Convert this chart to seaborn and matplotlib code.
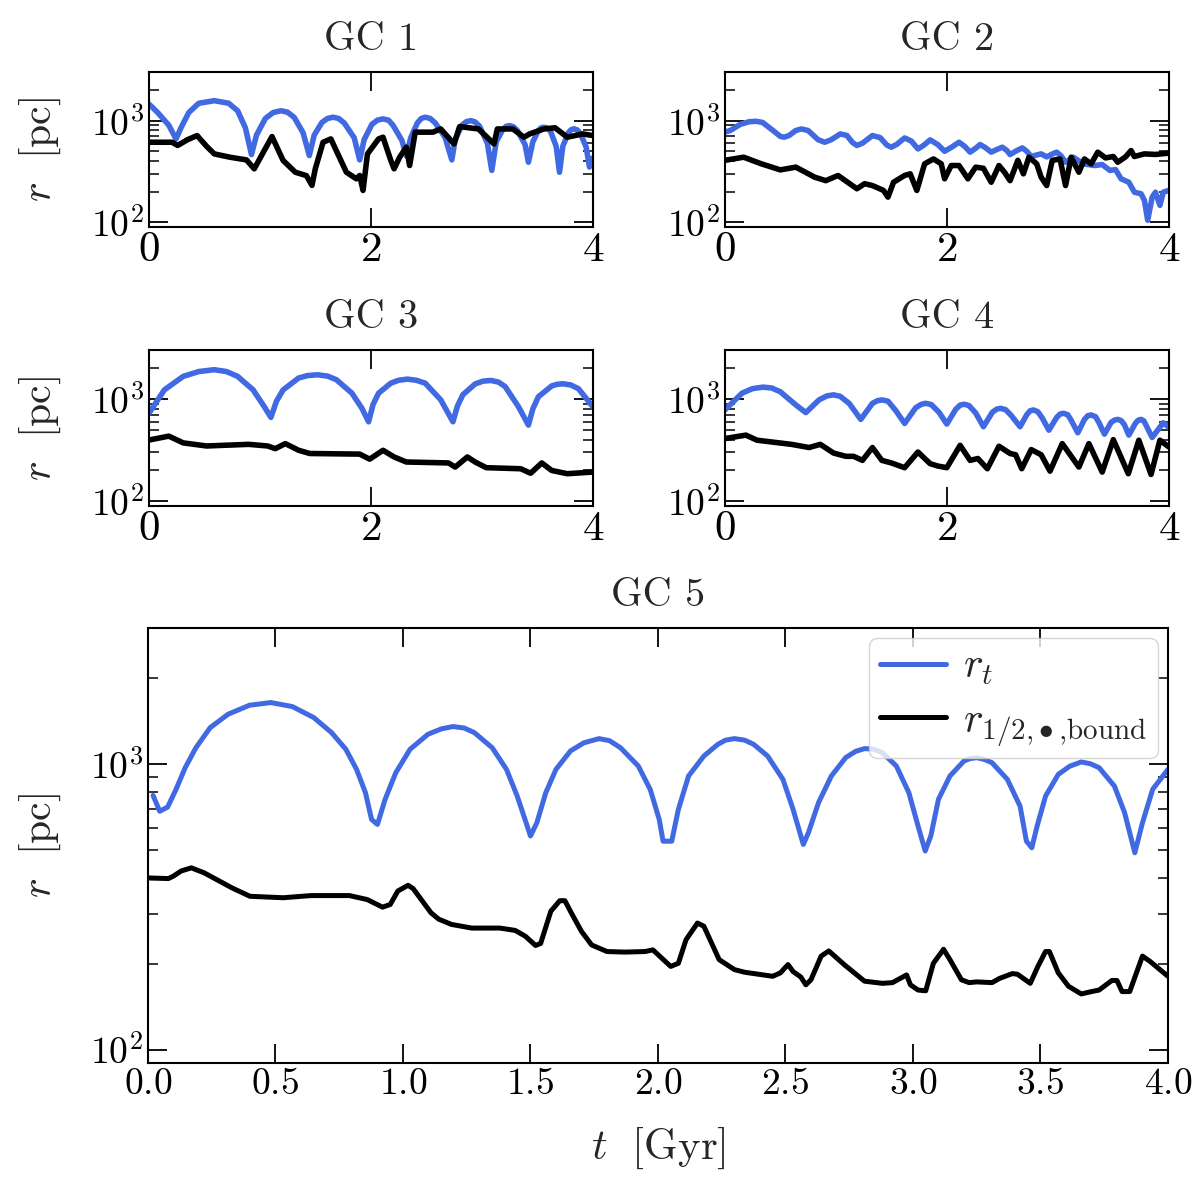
import numpy as np
import pandas as pd
import seaborn as sns
import matplotlib
matplotlib.use('Agg')
import matplotlib.pyplot as plt
from matplotlib.ticker import MultipleLocator, NullFormatter, LogLocator

# tidal radius (blue) and bound half-mass radius (black) for each cluster, in pc
t_gc1_tid = [0.00, 0.08, 0.18, 0.245, 0.29, 0.36, 0.45, 0.59, 0.72, 0.80, 0.87, 0.925, 0.97, 1.05, 1.12, 1.19,
             1.25, 1.31, 1.39, 1.446, 1.49, 1.56, 1.61, 1.66, 1.71, 1.76, 1.85, 1.90, 1.94, 2.01, 2.06, 2.11,
             2.16, 2.20, 2.28, 2.32, 2.36, 2.42, 2.455, 2.49, 2.535, 2.58, 2.67, 2.73, 2.76, 2.82, 2.86, 2.90,
             2.94, 2.98, 3.05, 3.09, 3.13, 3.19, 3.22, 3.25, 3.285, 3.32, 3.39, 3.42, 3.46, 3.51, 3.535, 3.56,
             3.59, 3.62, 3.67, 3.70, 3.73, 3.78, 3.805, 3.83, 3.86, 3.89, 3.94, 3.97, 4.00]
r_gc1_tid = [1460, 1200, 900, 660, 850, 1200, 1480, 1570, 1480, 1250, 850, 464, 720, 1050, 1200, 1250,
             1210, 1075, 760, 454, 720, 960, 1050, 1080, 1050, 950, 680, 411, 650, 920, 1010, 1040,
             1010, 900, 640, 450, 680, 950, 1050, 1080, 1050, 950, 680, 411, 650, 900, 975, 1000,
             970, 880, 600, 324, 620, 820, 880, 893, 870, 800, 580, 390, 620, 800, 850, 860,
             845, 780, 560, 311, 560, 760, 815, 830, 810, 740, 550, 350, 430]
t_gc1_half = [0.00, 0.21, 0.26, 0.35, 0.435, 0.52, 0.59, 0.73, 0.88, 0.95, 1.04, 1.11, 1.21, 1.32, 1.42, 1.47,
              1.50, 1.57, 1.64, 1.73, 1.78, 1.87, 1.90, 1.93, 1.97, 2.07, 2.11, 2.18, 2.21, 2.26, 2.32, 2.35,
              2.40, 2.56, 2.63, 2.75, 2.80, 2.97, 3.11, 3.14, 3.28, 3.38, 3.43, 3.56, 3.66, 3.77, 3.91, 4.00]
r_gc1_half = [613, 613, 570, 650, 713, 560, 471, 437, 411, 336, 508, 697, 406, 311, 288, 231,
              336, 613, 661, 407, 311, 268, 289, 206, 471, 661, 687, 407, 336, 437, 548, 362,
              770, 770, 828, 590, 873, 828, 590, 828, 828, 687, 740, 828, 850, 687, 740, 713]

t_gc2_tid = [0.00, 0.05, 0.14, 0.22, 0.28, 0.34, 0.44, 0.50, 0.535, 0.58, 0.64, 0.69, 0.75, 0.84, 0.90, 0.96,
             1.04, 1.10, 1.15, 1.19, 1.24, 1.33, 1.40, 1.46, 1.50, 1.55, 1.62, 1.68, 1.74, 1.79, 1.85, 1.92,
             1.98, 2.04, 2.11, 2.16, 2.21, 2.26, 2.30, 2.35, 2.40, 2.45, 2.50, 2.54, 2.57, 2.62, 2.68, 2.72,
             2.76, 2.81, 2.85, 2.90, 2.95, 2.99, 3.03, 3.07, 3.14, 3.23, 3.33, 3.40, 3.47, 3.52, 3.57, 3.64,
             3.69, 3.75, 3.78, 3.81, 3.85, 3.88, 3.92, 3.95, 4.00]
r_gc2_tid = [770, 800, 920, 975, 985, 960, 790, 700, 687, 715, 800, 828, 800, 650, 613, 650,
             740, 715, 610, 570, 600, 713, 680, 575, 548, 585, 676, 630, 527, 570, 647, 580,
             500, 545, 613, 560, 490, 535, 582, 540, 490, 520, 548, 510, 464, 500, 540, 500,
             444, 460, 471, 440, 470, 490, 450, 390, 437, 376, 362, 370, 324, 330, 268, 248,
             198, 191, 165, 105, 177, 198, 147, 198, 206]
t_gc2_half = [0.00, 0.17, 0.33, 0.50, 0.64, 0.81, 0.91, 1.02, 1.19, 1.26, 1.33, 1.43, 1.47, 1.52, 1.62, 1.67,
              1.73, 1.80, 1.88, 1.95, 1.98, 2.04, 2.11, 2.19, 2.26, 2.33, 2.40, 2.47, 2.52, 2.57, 2.64, 2.69,
              2.74, 2.81, 2.85, 2.90, 2.95, 3.02, 3.07, 3.12, 3.19, 3.24, 3.30, 3.36, 3.43, 3.50, 3.54, 3.61,
              3.66, 3.69, 3.78, 3.88, 4.00]
r_gc2_half = [407, 437, 376, 328, 349, 278, 257, 289, 214, 240, 230, 206, 177, 248, 289, 300,
              206, 376, 420, 376, 268, 362, 362, 268, 349, 340, 248, 362, 311, 257, 407, 300,
              437, 376, 278, 230, 407, 420, 230, 437, 311, 420, 376, 490, 430, 444, 390, 440,
              508, 444, 471, 465, 479]

t_gc3_tid = [0.00, 0.14, 0.31, 0.45, 0.59, 0.70, 0.80, 0.94, 1.04, 1.10, 1.15, 1.21, 1.35, 1.43, 1.52, 1.61,
             1.69, 1.83, 1.92, 1.98, 2.02, 2.07, 2.18, 2.25, 2.33, 2.41, 2.49, 2.63, 2.74, 2.78, 2.83, 2.94,
             3.01, 3.08, 3.15, 3.21, 3.33, 3.42, 3.46, 3.51, 3.63, 3.68, 3.73, 3.80, 3.87, 4.00]
r_gc3_tid = [720, 1225, 1660, 1850, 1928, 1850, 1660, 1225, 840, 660, 950, 1225, 1600, 1690, 1720, 1670,
             1540, 1137, 810, 598, 880, 1137, 1425, 1520, 1560, 1520, 1425, 980, 598, 850, 1100, 1400,
             1490, 1515, 1460, 1320, 840, 555, 800, 1050, 1340, 1390, 1405, 1370, 1260, 840]
t_gc3_half = [0.00, 0.18, 0.31, 0.52, 0.90, 1.07, 1.14, 1.23, 1.35, 1.45, 1.90, 1.99, 2.11, 2.21, 2.32, 2.70,
              2.76, 2.87, 2.94, 3.04, 3.35, 3.44, 3.54, 3.63, 3.77, 4.00]
r_gc3_half = [396, 433, 372, 347, 360, 347, 327, 366, 315, 293, 289, 258, 315, 271, 242, 237,
              216, 271, 242, 213, 208, 188, 237, 200, 186, 193]

t_gc4_tid = [0.00, 0.155, 0.25, 0.345, 0.42, 0.50, 0.64, 0.73, 0.85, 0.92, 0.98, 1.04, 1.12, 1.225, 1.33, 1.375,
             1.415, 1.47, 1.54, 1.62, 1.72, 1.77, 1.81, 1.86, 1.93, 2.00, 2.08, 2.12, 2.157, 2.20, 2.26, 2.33,
             2.41, 2.45, 2.485, 2.53, 2.58, 2.66, 2.72, 2.75, 2.78, 2.82, 2.86, 2.92, 2.99, 3.02, 3.05, 3.09,
             3.12, 3.18, 3.24, 3.27, 3.30, 3.34, 3.37, 3.42, 3.48, 3.51, 3.54, 3.57, 3.60, 3.64, 3.70, 3.725,
             3.75, 3.775, 3.80, 3.85, 3.95, 4.00]
r_gc4_tid = [780, 1137, 1260, 1303, 1280, 1175, 873, 735, 980, 1070, 1095, 1060, 905, 631, 905, 960,
             978, 950, 770, 576, 820, 885, 906, 880, 740, 568, 790, 870, 887, 860, 730, 535,
             740, 795, 809, 785, 690, 535, 700, 765, 780, 750, 650, 495, 660, 710, 724, 700,
             620, 467, 630, 685, 697, 670, 590, 453, 590, 620, 631, 615, 560, 443, 580, 620,
             631, 610, 540, 420, 585, 530]
t_gc4_half = [0.00, 0.19, 0.29, 0.60, 0.76, 0.86, 0.98, 1.09, 1.16, 1.24, 1.33, 1.415, 1.50, 1.62, 1.74, 1.85,
              1.92, 2.00, 2.12, 2.21, 2.28, 2.365, 2.47, 2.57, 2.62, 2.675, 2.76, 2.85, 2.93, 3.04, 3.19, 3.28,
              3.40, 3.50, 3.635, 3.73, 3.84, 3.92, 4.00]
r_gc4_half = [410, 443, 395, 360, 335, 360, 296, 275, 275, 251, 335, 251, 237, 213, 303, 233,
              221, 213, 352, 251, 262, 208, 345, 293, 285, 208, 320, 285, 197, 366, 216, 366,
              193, 400, 186, 395, 183, 395, 340]

t_gc5_tid = [0.02, 0.046, 0.077, 0.11, 0.146, 0.188, 0.244, 0.314, 0.398, 0.482, 0.566, 0.65, 0.72, 0.776,
             0.818, 0.853, 0.877, 0.90, 0.93, 0.972, 1.028, 1.098, 1.15, 1.196, 1.24, 1.28, 1.35, 1.406, 1.448,
             1.483, 1.50, 1.525, 1.56, 1.60, 1.657, 1.71, 1.769, 1.81, 1.853, 1.923, 1.97, 2.005, 2.02, 2.054,
             2.08, 2.12, 2.18, 2.235, 2.265, 2.30, 2.34, 2.375, 2.43, 2.49, 2.53, 2.57, 2.59, 2.63, 2.68,
             2.736, 2.775, 2.81, 2.845, 2.88, 2.935, 2.984, 3.02, 3.048, 3.07, 3.10, 3.145, 3.20, 3.225, 3.25,
             3.28, 3.31, 3.37, 3.42, 3.445, 3.466, 3.487, 3.52, 3.57, 3.615, 3.66, 3.695, 3.73, 3.79, 3.83,
             3.87, 3.90, 3.94, 4.00]
r_gc5_tid = [778, 685, 708, 817, 973, 1143, 1344, 1497, 1610, 1645, 1593, 1458, 1291, 1129,
             960, 795, 641, 616, 754, 935, 1129, 1274, 1330, 1356, 1340, 1291, 1143, 960, 774,
             624, 561, 624, 795, 960, 1114, 1190, 1230, 1210, 1143, 986, 815, 641, 538, 538,
             695, 910, 1069, 1175, 1215, 1230, 1215, 1175, 1069, 886, 695, 524, 576, 735, 910,
             1055, 1110, 1135, 1130, 1098, 986, 795, 608, 497, 561, 754, 910, 1027, 1048, 1055,
             1040, 1013, 886, 714, 538, 510, 608, 774, 922, 985, 1019, 1005, 973, 839, 677,
             490, 624, 817, 960]
t_gc5_half = [0.00, 0.08, 0.10, 0.13, 0.17, 0.22, 0.33, 0.40, 0.53, 0.64, 0.79, 0.86, 0.92, 0.95, 0.98, 1.02,
              1.04, 1.11, 1.14, 1.19, 1.27, 1.38, 1.44, 1.48, 1.52, 1.54, 1.58, 1.615, 1.635, 1.66, 1.70, 1.74,
              1.80, 1.87, 1.95, 1.98, 2.05, 2.08, 2.11, 2.155, 2.18, 2.24, 2.30, 2.34, 2.45, 2.48, 2.51, 2.53,
              2.56, 2.58, 2.60, 2.64, 2.67, 2.73, 2.81, 2.88, 2.92, 2.975, 2.99, 3.02, 3.05, 3.08, 3.12, 3.145,
              3.19, 3.22, 3.25, 3.31, 3.34, 3.39, 3.41, 3.46, 3.49, 3.52, 3.535, 3.57, 3.61, 3.66, 3.70, 3.73,
              3.78, 3.80, 3.82, 3.85, 3.90, 3.93, 4.00]
r_gc5_half = [400, 398, 406, 423, 434, 417, 369, 345, 341, 347, 347, 336, 316, 323, 360, 377,
              367, 302, 287, 275, 267, 267, 262, 250, 232, 236, 306, 333, 333, 302, 260, 233,
              221, 220, 221, 224, 196, 201, 243, 278, 271, 207, 191, 187, 181, 186, 199, 188,
              180, 169, 176, 213, 222, 199, 174, 171, 172, 183, 169, 162, 161, 201, 225, 207,
              176, 172, 173, 172, 178, 185, 184, 171, 196, 221, 221, 186, 167, 157, 160, 162,
              175, 175, 160, 160, 213, 204, 181]

panels = [
    ('GC 1', t_gc1_tid, r_gc1_tid, t_gc1_half, r_gc1_half),
    ('GC 2', t_gc2_tid, r_gc2_tid, t_gc2_half, r_gc2_half),
    ('GC 3', t_gc3_tid, r_gc3_tid, t_gc3_half, r_gc3_half),
    ('GC 4', t_gc4_tid, r_gc4_tid, t_gc4_half, r_gc4_half),
    ('GC 5', t_gc5_tid, r_gc5_tid, t_gc5_half, r_gc5_half),
]

BLUE = '#4169E1'

sns.set_style('ticks')
plt.rcParams.update({
    'font.family': 'serif',
    'font.serif': ['cmr10'],
    'mathtext.fontset': 'cm',
    'axes.formatter.use_mathtext': True,
    'axes.unicode_minus': False,
    'axes.linewidth': 1.5,
    'axes.edgecolor': 'black',
})

fig = plt.figure(figsize=(12, 11.85), dpi=100)
# [left, bottom, width, height] in figure fractions
rects = [
    [0.124, 0.8084, 0.370, 0.1308],
    [0.604, 0.8084, 0.370, 0.1308],
    [0.124, 0.5730, 0.370, 0.1316],
    [0.604, 0.5730, 0.370, 0.1316],
    [0.1233, 0.1030, 0.850, 0.3670],
]


def draw_panel(ax, title, t_tid, r_tid, t_half, r_half, big):
    tid = pd.DataFrame({'t': t_tid, 'r': r_tid})
    half = pd.DataFrame({'t': t_half, 'r': r_half})
    lw = 3.6 if big else 4.0
    ax.set_yscale('log')
    sns.lineplot(data=tid, x='t', y='r', color=BLUE, lw=lw, ax=ax, estimator=None, sort=False,
                 label=r'$r_t$' if big else None, legend=big)
    sns.lineplot(data=half, x='t', y='r', color='black', lw=lw, ax=ax, estimator=None, sort=False,
                 label=r'$r_{1/2{,}\bullet{,}\mathrm{bound}}$' if big else None, legend=big)
    ax.set_xlim(0, 4)
    ax.set_ylim(90, 3000)
    ax.yaxis.set_major_locator(LogLocator(base=10))
    ax.yaxis.set_minor_locator(LogLocator(base=10, subs=np.arange(2, 10)))
    ax.yaxis.set_minor_formatter(NullFormatter())
    ax.tick_params(which='both', direction='in', top=True, right=True, colors='black')
    ax.tick_params(which='major', length=14, width=1.3)
    ax.tick_params(which='minor', length=7, width=1.1)
    ax.set_title(title, fontsize=29, pad=16)
    ax.set_xlabel('')
    ax.set_ylabel('')
    if big:
        ax.xaxis.set_major_locator(MultipleLocator(0.5))
        ax.tick_params(axis='both', which='major', labelsize=27)
        ax.set_xlabel(r'$t\ \ [\mathrm{Gyr}]$', fontsize=31, labelpad=18)
        ax.set_ylabel(r'$r\ \ [\mathrm{pc}]$', fontsize=30)
        ax.yaxis.set_label_coords(-0.083, 0.5)
        ax.legend(loc='upper right', fontsize=30, handlelength=1.6, handletextpad=0.4,
                  borderpad=0.25, labelspacing=0.35, borderaxespad=0.25,
                  frameon=True, fancybox=True, framealpha=0.8, edgecolor='0.8')
    else:
        ax.set_xticks([0, 2, 4])
        ax.tick_params(axis='x', which='major', labelsize=31)
        ax.tick_params(axis='y', which='major', labelsize=27)


for i, (rect, (title, t1, r1, t2, r2)) in enumerate(zip(rects, panels)):
    ax = fig.add_axes(rect)
    draw_panel(ax, title, t1, r1, t2, r2, big=(i == 4))
    if i in (0, 2):
        ax.set_ylabel(r'$r\ \ [\mathrm{pc}]$', fontsize=30)
        ax.yaxis.set_label_coords(-0.194, 0.5)

fig.savefig('out.png', dpi=100)
